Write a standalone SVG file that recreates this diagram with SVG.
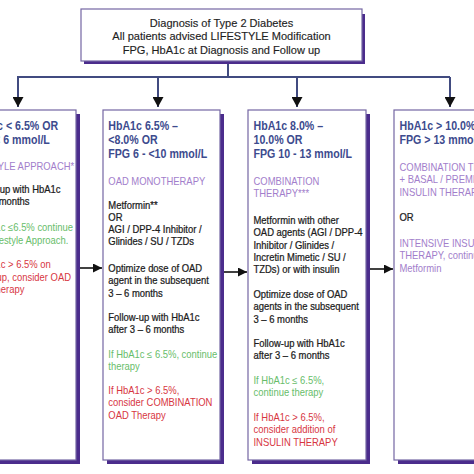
<svg xmlns="http://www.w3.org/2000/svg" width="474" height="474" viewBox="0 0 474 474">
  <style>
    text { font-family: "Liberation Sans", Arial, sans-serif; }
    .shadow { fill: #4b2c8c; }
    .box { fill: #ffffff; stroke: #7466a3; stroke-width: 1.2; }
    .title { font-size: 11.5px; fill: #1e1e1e; text-anchor: middle; stroke: #1e1e1e; stroke-width: 0.15; }
    .hd { font-size: 12.5px; font-weight: bold; fill: #3d4b8e; }
    .pu { font-size: 10.5px; fill: #a27ecb; }
    .bk { font-size: 10.5px; fill: #1c1c1c; stroke: #1c1c1c; stroke-width: 0.25; }
    .gn { font-size: 10.5px; fill: #67bd6a; }
    .rd { font-size: 10.5px; fill: #d7363f; }
    .tree { stroke: #414b80; stroke-width: 2; fill: none; }
    .flow { stroke: #111111; stroke-width: 1.6; fill: none; }
  </style>
  <defs>
    <marker id="drop" viewBox="0 0 10 10" refX="10" refY="5" markerWidth="10" markerHeight="11" markerUnits="userSpaceOnUse" orient="auto" preserveAspectRatio="none">
      <path d="M0,0 L10,5 L0,10 z" fill="#111111"/>
    </marker>
    <marker id="side" viewBox="0 0 10 10" refX="10" refY="5" markerWidth="9" markerHeight="9" markerUnits="userSpaceOnUse" orient="auto" preserveAspectRatio="none">
      <path d="M0,0 L10,5 L0,10 z" fill="#111111"/>
    </marker>
  </defs>

  <!-- top node -->
  <g id="diagnosis">
    <rect class="shadow" x="84" y="14" width="281" height="50"/>
    <rect class="box" x="81" y="9" width="281" height="52"/>
    <g transform="translate(221.5,0) scale(0.96 1)">
      <text class="title" x="0" y="26.8">Diagnosis of Type 2 Diabetes</text>
      <text class="title" x="0" y="40.2">All patients advised LIFESTYLE Modification</text>
      <text class="title" x="0" y="53.6">FPG, HbA1c at Diagnosis and Follow up</text>
    </g>
  </g>

  <!-- connectors -->
  <g id="connectors">
    <path class="tree" d="M228,64 V77 M17,77 H450"/>
    <line class="tree" x1="18" y1="77" x2="18" y2="107" marker-end="url(#drop)"/>
    <line class="tree" x1="158" y1="77" x2="158" y2="107" marker-end="url(#drop)"/>
    <line class="tree" x1="297" y1="77" x2="297" y2="107" marker-end="url(#drop)"/>
    <line class="tree" x1="450" y1="77" x2="450" y2="107" marker-end="url(#drop)"/>
    <line class="flow" x1="80" y1="268" x2="102" y2="268" marker-end="url(#side)"/>
    <line class="flow" x1="224" y1="272" x2="247" y2="272" marker-end="url(#side)"/>
    <line class="flow" x1="370" y1="269" x2="393" y2="269" marker-end="url(#side)"/>
  </g>

  <!-- HbA1c below 6.5% -->
  <g id="lifestyle">
    <rect class="shadow" x="-32" y="114" width="112" height="350"/>
    <rect class="box" x="-36" y="110" width="112" height="350"/>
    <g transform="translate(-30.7,0)">
      <g class="hd" transform="scale(0.85 1)">
        <text x="0" y="130">HbA1c &lt; 6.5% OR</text>
        <text x="0" y="144">FPG &lt; 6 mmol/L</text>
      </g>
      <g transform="scale(0.9 1)">
        <text class="pu" x="-4" y="170.5">LIFESTYLE APPROACH*</text>
        <text class="bk" x="0" y="193">Follow-up with HbA1c</text>
        <text class="bk" x="0" y="205.5">after 3 months</text>
        <text class="gn" x="0" y="231.5">If HbA1c ≤6.5% continue</text>
        <text class="gn" x="0" y="244">with Lifestyle Approach.</text>
        <text class="rd" x="0" y="268.5">If HbA1c &gt; 6.5% on</text>
        <text class="rd" x="0" y="281">follow-up, consider OAD</text>
        <text class="rd" x="0" y="293.5">monotherapy</text>
      </g>
    </g>
  </g>

  <!-- HbA1c 6.5% to 8.0% -->
  <g id="monotherapy">
    <rect class="shadow" x="107" y="114" width="117" height="350"/>
    <rect class="box" x="103" y="110" width="117" height="350"/>
    <g transform="translate(108.3,0)">
      <g class="hd" transform="scale(0.85 1)">
        <text x="0" y="130">HbA1c 6.5% –</text>
        <text x="0" y="144">&lt;8.0% OR</text>
        <text x="0" y="158">FPG 6 - &lt;10 mmol/L</text>
      </g>
      <g transform="scale(0.9 1)">
        <text class="pu" x="0" y="185">OAD MONOTHERAPY</text>
        <text class="bk" x="0" y="208.8">Metformin**</text>
        <text class="bk" x="0" y="220.8">OR</text>
        <text class="bk" x="0" y="232.8">AGI / DPP-4 Inhibitor /</text>
        <text class="bk" x="0" y="245.2">Glinides / SU / TZDs</text>
        <text class="bk" x="0" y="272">Optimize dose of OAD</text>
        <text class="bk" x="0" y="284.3">agent in the subsequent</text>
        <text class="bk" x="0" y="296.6">3 – 6 months</text>
        <text class="bk" x="0" y="321">Follow-up with HbA1c</text>
        <text class="bk" x="0" y="333.3">after 3 – 6 months</text>
        <text class="gn" x="0" y="358">If HbA1c ≤ 6.5%, continue</text>
        <text class="gn" x="0" y="370.3">therapy</text>
        <text class="rd" x="0" y="394">If HbA1c &gt; 6.5%,</text>
        <text class="rd" x="0" y="406.5">consider COMBINATION</text>
        <text class="rd" x="0" y="419">OAD Therapy</text>
      </g>
    </g>
  </g>

  <!-- HbA1c 8.0% to 10.0% -->
  <g id="combination">
    <rect class="shadow" x="252" y="114" width="118" height="350"/>
    <rect class="box" x="248" y="110" width="118" height="350"/>
    <g transform="translate(253.5,0)">
      <g class="hd" transform="scale(0.85 1)">
        <text x="0" y="130">HbA1c 8.0% –</text>
        <text x="0" y="144">10.0% OR</text>
        <text x="0" y="158">FPG 10 - 13 mmol/L</text>
      </g>
      <g transform="scale(0.9 1)">
        <text class="pu" x="0" y="185">COMBINATION</text>
        <text class="pu" x="0" y="197.5">THERAPY***</text>
        <text class="bk" x="0" y="224">Metformin with other</text>
        <text class="bk" x="0" y="236.3">OAD agents (AGI / DPP-4</text>
        <text class="bk" x="0" y="248.6">Inhibitor / Glinides /</text>
        <text class="bk" x="0" y="260.9">Incretin Mimetic / SU /</text>
        <text class="bk" x="0" y="273.2">TZDs) or with insulin</text>
        <text class="bk" x="0" y="298">Optimize dose of OAD</text>
        <text class="bk" x="0" y="310.3">agents in the subsequent</text>
        <text class="bk" x="0" y="322.6">3 – 6 months</text>
        <text class="bk" x="0" y="347">Follow-up with HbA1c</text>
        <text class="bk" x="0" y="359.3">after 3 – 6 months</text>
        <text class="gn" x="0" y="384">If HbA1c ≤ 6.5%,</text>
        <text class="gn" x="0" y="396.3">continue therapy</text>
        <text class="rd" x="0" y="421">If HbA1c &gt; 6.5%,</text>
        <text class="rd" x="0" y="433.3">consider addition of</text>
        <text class="rd" x="0" y="445.6">INSULIN THERAPY</text>
      </g>
    </g>
  </g>

  <!-- HbA1c above 10.0% -->
  <g id="insulin">
    <rect class="shadow" x="398" y="114" width="118" height="350"/>
    <rect class="box" x="394" y="110" width="118" height="350"/>
    <g transform="translate(399.5,0)">
      <g class="hd" transform="scale(0.85 1)">
        <text x="0" y="130">HbA1c &gt; 10.0% OR</text>
        <text x="0" y="144">FPG &gt; 13 mmol/L</text>
      </g>
      <g transform="scale(0.9 1)">
        <text class="pu" x="0" y="171">COMBINATION THERAPY</text>
        <text class="pu" x="0" y="183.5">+ BASAL / PREMIXED</text>
        <text class="pu" x="0" y="196">INSULIN THERAPY</text>
        <text class="bk" x="0" y="221">OR</text>
        <text class="pu" x="0" y="247">INTENSIVE INSULIN</text>
        <text class="pu" x="0" y="259.3">THERAPY, continue</text>
        <text class="pu" x="0" y="271.6">Metformin</text>
      </g>
    </g>
  </g>
</svg>
